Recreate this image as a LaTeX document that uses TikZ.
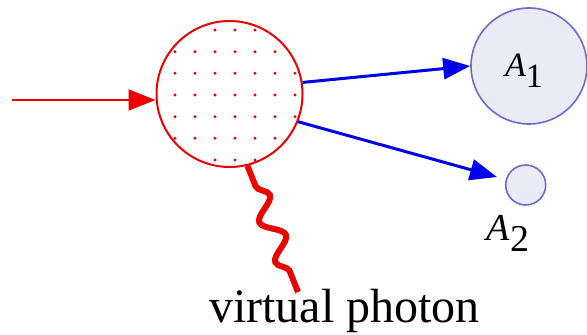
\documentclass[tikz,border=0pt]{standalone}
\usepackage{fontspec}
\setmainfont{Liberation Serif}
\usetikzlibrary{arrows.meta,decorations.pathmorphing}
\definecolor{pred}{rgb}{0.93,0,0}
\definecolor{pblue}{rgb}{0,0,0.93}
\definecolor{lav}{rgb}{0.92,0.92,0.97}
\definecolor{lavedge}{rgb}{0.42,0.42,0.82}
\tikzset{
  blob/.style={circle, draw=pred, line width=1pt, inner sep=0pt, minimum size=73pt},
  nucl/.style={circle, draw=lavedge, fill=lav, line width=0.8pt, inner sep=0pt},
  redarrow/.style={draw=pred, line width=1.1pt, -{Triangle[length=13.5pt,width=10.5pt]}},
  bluearrow/.style={draw=pblue, line width=1.5pt, -{Triangle[length=13.5pt,width=10.5pt]}},
  photon/.style={draw=pred, line width=3pt, decorate,
    decoration={snake, segment length=21.5pt, amplitude=5pt, pre length=11pt, post length=11pt}},
  lbl/.style={inner sep=0pt, anchor=base}
}
\begin{document}
\begin{tikzpicture}[x=0.5pt,y=-0.5pt]
\useasboundingbox (0,0) rectangle (587,335);
% dots
\foreach \yy/\xs in {30/{215,235,255}, 51.7/{175,195,215,235,255,275}, 73.3/{175,195,215,235,255,275,295}, 95/{175,195,215,235,255,275,295}, 116.7/{175,195,215,235,255,275,295}, 138.3/{175,195,215,235,255,275}, 160/{215,235,255}}{
  \foreach \xx in \xs { \fill[pred] (\xx,\yy) circle (0.8pt); }
}
\node[blob] (B) at (229.5,94) {};
\node[nucl, minimum size=58pt] (A1) at (529,66) {};
\node[lbl, font=\fontsize{17}{20}\selectfont] (A1t) at (524,77) {\textit{A}\raisebox{-5.5pt}{1}};
\node[nucl, minimum size=20pt] (A2) at (525.7,185) {};
\node[lbl, font=\fontsize{19}{22}\selectfont] (A2t) at (508,241) {\textit{A}\raisebox{-5.5pt}{2}};
\coordinate (in) at (12,100);
\draw[redarrow] (in) -- (in -| B.west);
\draw[bluearrow] (B.9) -- (A1.180);
\draw[bluearrow, shorten >=4.5pt] (B.-22.5) -- (A2);
\coordinate (ph) at (298,292);
\draw[photon] (B.-76) -- (ph);
\node[lbl, font=\fontsize{24}{28}\selectfont] (vp) at (344.5,322) {virtual photon};
\end{tikzpicture}
\end{document}
